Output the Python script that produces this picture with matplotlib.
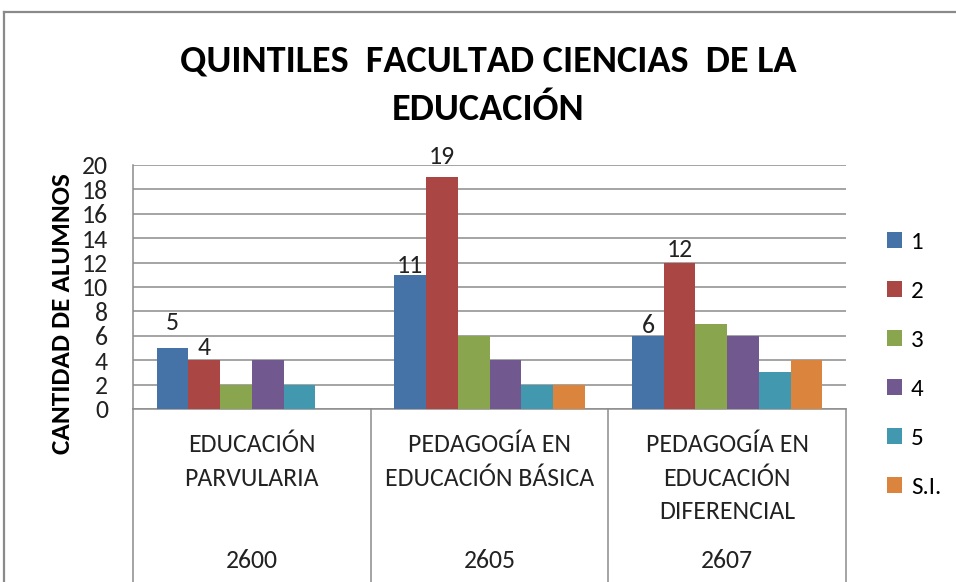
import matplotlib

matplotlib.use("Agg")
import matplotlib.pyplot as plt
import matplotlib.transforms as mtransforms
import numpy as np

plt.rcParams["font.family"] = ["Carlito", "DejaVu Sans"]

CARRERAS = ["EDUCACIÓN\nPARVULARIA", "PEDAGOGÍA EN\nEDUCACIÓN BÁSICA", "PEDAGOGÍA EN\nEDUCACIÓN\nDIFERENCIAL"]
CODIGOS = ["2600", "2605", "2607"]
SERIES = ["1", "2", "3", "4", "5", "S.I."]
Q1 = [5, 11, 6]
Q2 = [4, 19, 12]
Q3 = [2, 6, 7]
Q4 = [4, 4, 6]
Q5 = [2, 2, 3]
QSI = [np.nan, 2, 4]
TITLE = ["QUINTILES  FACULTAD CIENCIAS  DE LA", "EDUCACIÓN"]
COLORS = ["#4572A7", "#AA4643", "#89A54E", "#71588F", "#4198AF", "#DB843D"]
# data labels only on series 1 and 2; gap above the bar in pixels (labels were hand-placed)
LABEL_GAP = {0: [18, 2, 3], 1: [5, 13, 6]}

W, H = 956, 582
PX = 72 / 100  # points per pixel
fig = plt.figure(figsize=(W / 100, H / 100), dpi=100)
ax = fig.add_axes([133 / W, 1 - 409 / H, 713 / W, 244 / H])

x = np.arange(len(CARRERAS))
bw = 1 / 7.5
values = [Q1, Q2, Q3, Q4, Q5, QSI]
bars = []
for i, (vals, color) in enumerate(zip(values, COLORS)):
    b = ax.bar(x + (i - 2.5) * bw, vals, bw, color=color, zorder=3, label=SERIES[i])
    bars.append(b)
    if i in LABEL_GAP:
        for rect, v, gap in zip(b, vals, LABEL_GAP[i]):
            ax.annotate(f"{v:g}", (rect.get_x() + rect.get_width() / 2, v),
                        xytext=(0, gap * PX), textcoords="offset points",
                        ha="center", va="baseline", fontsize=18.5, color="#222222")

ax.set_xlim(-0.5, 2.5)
ax.set_ylim(0, 20)
ax.set_yticks(range(0, 21, 2))
ax.tick_params(axis="y", length=0, labelsize=18.5, pad=25 * PX, colors="#222222")
ax.set_xticks([])
ax.grid(axis="y", color="#8c8c8c", linewidth=1.1, zorder=0)
for s in ["top", "right", "bottom"]:
    ax.spines[s].set_visible(False)
ax.spines["left"].set_color("#8c8c8c")
ax.spines["left"].set_linewidth(1.1)

# multi-level category axis
trans = mtransforms.blended_transform_factory(ax.transData, ax.transAxes)
ybot = -(H - 409) / 244
ax.plot([-0.5, 2.5], [0, 0], color="#8c8c8c", lw=1.1, transform=trans, clip_on=False)
for xd in [-0.5, 0.5, 1.5, 2.5]:
    ax.plot([xd, xd], [0, ybot], color="#8c8c8c", lw=1.1, transform=trans, clip_on=False)
for xi, name, code in zip(x, CARRERAS, CODIGOS):
    for k, line in enumerate(name.split("\n")):
        ax.text(xi, -(452 + 33.5 * k - 409) / 244, line, transform=trans, ha="center",
                va="baseline", fontsize=18.5, color="#222222")
    ax.text(xi, -(568 - 409) / 244, code, transform=trans, ha="center", va="baseline",
            fontsize=18.5, color="#222222")

fig.text(63 / W, 1 - 314 / H, "CANTIDAD DE ALUMNOS", rotation=90, ha="center",
         va="center", fontsize=19.5, fontweight="bold")
for k, line in enumerate(TITLE):
    fig.text(488 / W, 1 - (72 + 48 * k) / H, line, ha="center", va="baseline",
             fontsize=27.5, fontweight="bold")

fig.legend(handles=bars, labels=SERIES, loc="upper left",
           bbox_to_anchor=(887 / W, 1 - 232 / H), frameon=False, fontsize=18,
           handlelength=0.6, handleheight=0.6, handletextpad=0.36, labelspacing=1.12,
           borderpad=0, borderaxespad=0)

# outer chart border
fig.add_artist(plt.Line2D([4 / W, 1], [1 - 12 / H, 1 - 12 / H], color="#8a8a8a", lw=1.6))
fig.add_artist(plt.Line2D([4 / W, 4 / W], [0, 1 - 12 / H], color="#8a8a8a", lw=1.6))

fig.savefig("out.png", dpi=100)
